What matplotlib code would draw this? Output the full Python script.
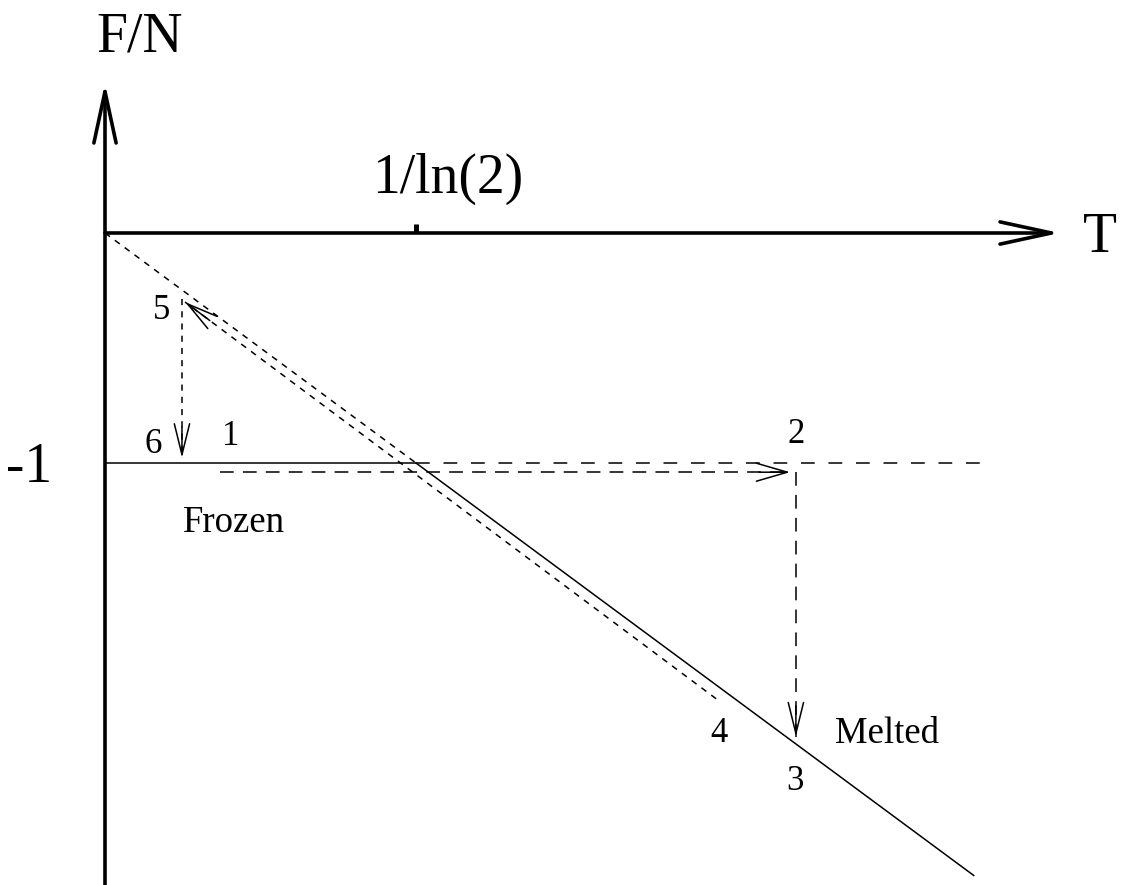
import numpy as np
import matplotlib
matplotlib.use("Agg")
import matplotlib.pyplot as plt

LN2 = np.log(2)
TC = 1 / LN2  # melting temperature 1/ln(2)

# free-energy branches
frozen_solid_T = [0, TC]
frozen_solid_F = [-1, -1]
frozen_meta_T = [TC, 4.1]
frozen_meta_F = [-1, -1]
melted_meta_T = [0, TC]
melted_meta_F = [0, -TC * LN2]
melted_solid_T = [TC, 4.03]
melted_solid_F = [-TC * LN2, -4.03 * LN2]

# hysteresis path 1 -> 2 -> 3 and 4 -> 5 -> 6
path12_T = [0.533, 3.178]
path12_F = [-1.04, -1.04]
path23_T = [3.205, 3.205]
path23_F = [-1.04, -2.19]
path45_T = [2.835, 0.371]
path45_F = [-2.025, -0.30]
path56_T = [0.357, 0.357]
path56_F = [-0.287, -0.978]

labels = ["1", "2", "3", "4", "5", "6"]
label_T = [0.584, 3.205, 3.201, 2.848, 0.264, 0.223]
label_F = [-0.922, -0.913, -2.422, -2.213, -0.374, -0.957]

serif = "Liberation Serif"

fig = plt.figure(figsize=(11.25, 8.85), dpi=100)
ax = fig.add_axes([0, 0, 1, 1])
sx = 311 * LN2
ax.set_xlim(-105 / sx, (1125 - 105) / sx)
ax.set_ylim(-(885 - 233) / 230, 233 / 230)
ax.axis("off")


def head(start, tip, length=31, width=5.5):
    p0 = ax.transData.transform(start)
    p1 = ax.transData.transform(tip)
    d = (p0 - p1) / np.hypot(*(p0 - p1))
    ax.annotate("", xy=tip, xytext=tuple(d * length), textcoords="offset pixels",
                arrowprops=dict(arrowstyle=f"->,head_length={length * 0.72 / 10},head_width={width / 10}",
                                lw=1.1, color="black", shrinkA=0, shrinkB=0))


# coordinate axes
ax.annotate("", xy=(4.43, 0), xytext=(0, 0),
            arrowprops=dict(arrowstyle="->,head_length=3.7,head_width=0.8", lw=2.6,
                            color="black", shrinkA=0, shrinkB=0))
ax.annotate("", xy=(0, 0.652), xytext=(0, -2.84),
            arrowprops=dict(arrowstyle="->,head_length=3.7,head_width=0.8", lw=2.6,
                            color="black", shrinkA=0, shrinkB=0))
ax.plot([TC, TC], [0, 0.04], color="black", lw=3.6, solid_capstyle="butt")

# branches
ax.plot(frozen_solid_T, frozen_solid_F, color="black", lw=1.1)
ax.plot(frozen_meta_T, frozen_meta_F, color="black", lw=1.1, dashes=(9, 9))
ax.plot(melted_meta_T, melted_meta_F, color="black", lw=1.1, dashes=(4, 4))
ax.plot(melted_solid_T, melted_solid_F, color="black", lw=1.1)

# paths
ax.plot(path12_T, path12_F, color="black", lw=1.1, dashes=(9, 6))
ax.plot(path23_T, path23_F, color="black", lw=1.1, dashes=(9, 6))
ax.plot(path45_T, path45_F, color="black", lw=1.1, dashes=(4, 4))
ax.plot(path56_T, path56_F, color="black", lw=1.1, dashes=(4, 4))
head((path12_T[0], path12_F[0]), (path12_T[1], path12_F[1]), width=6.5)
head((path23_T[0], path23_F[0]), (path23_T[1], path23_F[1]))
head((path45_T[0], path45_F[0]), (path45_T[1], path45_F[1]))
head((path56_T[0], path56_F[0]), (path56_T[1], path56_F[1]))

# text
ax.text(0.162, 0.787, "F/N", family=serif, fontsize=40, ha="center", va="baseline")
ax.text(1.591, 0.174, "1/ln(2)", family=serif, fontsize=40, ha="center", va="baseline")
ax.text(4.537, -0.083, "T", family=serif, fontsize=40, ha="left", va="baseline")
ax.text(-0.246, -1.083, "-1", family=serif, fontsize=40, ha="right", va="baseline")
for s, t, f in zip(labels, label_T, label_F):
    ax.text(t, f, s, family=serif, fontsize=25, ha="center", va="baseline")
ax.text(0.362, -1.30, "Frozen", family=serif, fontsize=26.5, ha="left", va="baseline")
ax.text(3.386, -2.217, "Melted", family=serif, fontsize=26.5, ha="left", va="baseline")

fig.savefig("out.png", dpi=100)
